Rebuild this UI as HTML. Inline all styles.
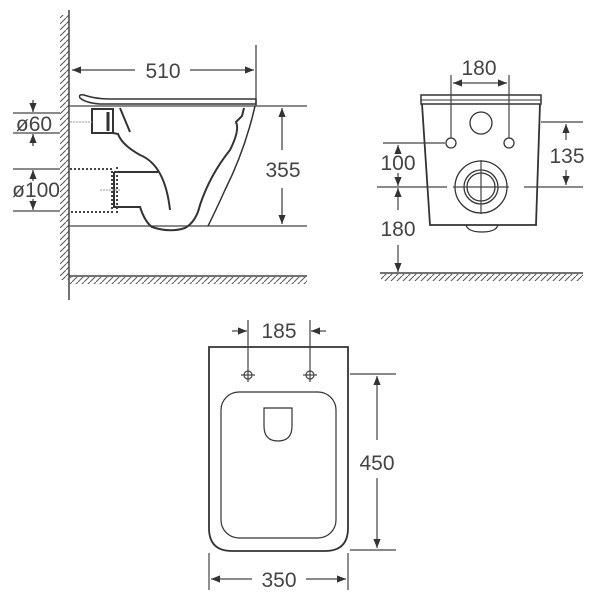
<!DOCTYPE html>
<html><head><style>html,body{margin:0;padding:0;background:#fff}</style></head>
<body>
<svg width="600" height="600" viewBox="0 0 600 600" xmlns="http://www.w3.org/2000/svg">
<defs>
<marker id="a" viewBox="0 0 10 10" refX="10" refY="5" markerWidth="9" markerHeight="9" orient="auto-start-reverse" markerUnits="userSpaceOnUse"><path d="M0,1 L10,5 L0,9 z" fill="#333"/></marker>
<pattern id="hv" width="6" height="6" patternUnits="userSpaceOnUse"><path d="M-1,7 L7,-1" stroke="#555" stroke-width="1"/></pattern>
</defs>
<g font-family="Liberation Sans, sans-serif" font-size="21" fill="#444" text-anchor="middle">
<!-- SIDE VIEW -->
<rect x="60" y="15" width="9" height="265" fill="url(#hv)"/>
<line x1="69" y1="10" x2="69" y2="300" stroke="#444" stroke-width="1.5"/>
<rect x="70" y="277" width="237" height="7" fill="url(#hv)"/>
<line x1="69" y1="276" x2="307" y2="276" stroke="#444" stroke-width="1.5"/>
<g stroke="#444" stroke-width="1.3" fill="none">
<line x1="69" y1="106" x2="307" y2="106"/>
<line x1="69" y1="226" x2="307" y2="226"/>
<line x1="256" y1="45" x2="256" y2="106"/>
<line x1="72" y1="70" x2="135" y2="70" marker-start="url(#a)"/>
<line x1="190" y1="70" x2="254" y2="70" marker-end="url(#a)"/>
<line x1="282" y1="108" x2="282" y2="150" marker-start="url(#a)"/>
<line x1="282" y1="188" x2="282" y2="224" marker-end="url(#a)"/>
<line x1="13" y1="113" x2="60" y2="113"/><line x1="13" y1="133" x2="60" y2="133"/>
<line x1="33" y1="100" x2="33" y2="112" marker-end="url(#a)"/>
<line x1="33" y1="146" x2="33" y2="134" marker-end="url(#a)"/>
<line x1="13" y1="169" x2="60" y2="169"/><line x1="13" y1="211" x2="60" y2="211"/>
<line x1="33" y1="181" x2="33" y2="170" marker-end="url(#a)"/>
<line x1="33" y1="199" x2="33" y2="210" marker-end="url(#a)"/>
</g>
<text x="163" y="78">510</text>
<text x="283" y="177">355</text>
<text x="34" y="131">ø60</text>
<text x="36" y="197">ø100</text>
<!-- toilet side -->
<g stroke="#333" stroke-width="2" fill="none">
<path d="M80,98 Q78,94 84,95 Q95,99 110,99 L256,99 L256,104 L100,104 Q86,103 80,98 Z" stroke-width="1.5"/>
<rect x="92" y="109" width="21" height="24"/>
<line x1="108" y1="112" x2="108" y2="131" stroke-width="3"/>
<path d="M120,108 L130,132"/>
<path d="M113,133 L118,134 Q122,145 140,155 Q165,165 170,210"/>
<path d="M114,172 L158,172"/>
<path d="M114,172 L114,207 L140,207 Q145,222 152,227 Q170,233 185,228 Q196,222 200,205 Q210,175 230,150 Q240,130 236,122 L242,116 L244,108"/>
<path d="M255,106 Q245,150 225,190 Q215,212 208,226" stroke-width="1.5"/>
</g>
<g stroke="#444" stroke-width="2" stroke-dasharray="2,2" fill="none">
<path d="M70,169 L112,169 L112,212 L70,212"/>
<path d="M117,167 L117,214"/>
</g>
<g stroke="#999" stroke-width="1" stroke-dasharray="2,1"><line x1="70" y1="122" x2="92" y2="122"/><line x1="100" y1="190" x2="120" y2="190"/></g>
<!-- FRONT VIEW -->
<rect x="381" y="274" width="202" height="7" fill="url(#hv)"/>
<line x1="380" y1="273" x2="583" y2="273" stroke="#444" stroke-width="1.5"/>
<g stroke="#333" stroke-width="1.8" fill="none">
<path d="M421,95 L541,95 L541,104 L421,104 Z" stroke-width="1.5"/>
<line x1="421" y1="100" x2="541" y2="100" stroke-width="1"/>
<path d="M422,104 L430,225 L536,225 L540,104"/>
<path d="M466,225 Q468,232 482,232 Q496,232 498,225" stroke-width="1.3"/>
<circle cx="481" cy="123" r="11" stroke-width="1.3"/>
<circle cx="451" cy="143" r="5" stroke-width="1.3"/>
<circle cx="509" cy="143" r="5" stroke-width="1.3"/>
<circle cx="481" cy="187" r="26" stroke-width="1.3"/>
<circle cx="481" cy="187" r="17" stroke-width="1.3"/>
<circle cx="481" cy="187" r="14" stroke-width="1.3"/>
</g>
<g stroke="#444" stroke-width="1.2" fill="none">
<line x1="451" y1="75" x2="451" y2="138"/><line x1="509" y1="75" x2="509" y2="138"/>
<line x1="453" y1="83" x2="507" y2="83" marker-start="url(#a)" marker-end="url(#a)"/>
<line x1="453" y1="187" x2="509" y2="187"/><line x1="481" y1="160" x2="481" y2="214"/>
<line x1="383" y1="143" x2="445" y2="143"/>
<line x1="377" y1="187" x2="447" y2="187"/><line x1="524" y1="187" x2="583" y2="187"/>
<line x1="541" y1="122" x2="583" y2="122"/>
<line x1="566" y1="124" x2="566" y2="140" marker-start="url(#a)"/>
<line x1="566" y1="170" x2="566" y2="185" marker-end="url(#a)"/>
<line x1="398" y1="145" x2="398" y2="150" marker-start="url(#a)"/>
<line x1="398" y1="173" x2="398" y2="186" marker-end="url(#a)"/>
<line x1="398" y1="188" x2="398" y2="210" marker-start="url(#a)"/>
<line x1="398" y1="245" x2="398" y2="272" marker-end="url(#a)"/>
</g>
<text x="479" y="75">180</text>
<text x="567" y="163">135</text>
<text x="398" y="170">100</text>
<text x="398" y="236">180</text>
<!-- TOP VIEW -->
<g stroke="#333" stroke-width="1.8" fill="none">
<path d="M209,347 L348,347 L348,528 Q348,551 325,551 L232,551 Q209,551 209,528 Z"/>
<rect x="221" y="392" width="115" height="146" rx="18" stroke-width="1.2"/>
<path d="M264,408 L292,408 L292,426 Q292,441 278,441 Q264,441 264,426 Z" stroke-width="1.2"/>
</g>
<g stroke="#444" stroke-width="1.2" fill="none">
<circle cx="248" cy="375" r="4"/><circle cx="310" cy="375" r="4"/>
<line x1="241" y1="375" x2="255" y2="375"/><line x1="303" y1="375" x2="317" y2="375"/>
<line x1="248" y1="320" x2="248" y2="382"/><line x1="310" y1="320" x2="310" y2="382"/>
<line x1="232" y1="331" x2="247" y2="331" marker-end="url(#a)"/>
<line x1="326" y1="331" x2="311" y2="331" marker-end="url(#a)"/>
<line x1="350" y1="374" x2="396" y2="374"/><line x1="350" y1="550" x2="396" y2="550"/>
<line x1="377" y1="376" x2="377" y2="440" marker-start="url(#a)"/>
<line x1="377" y1="478" x2="377" y2="548" marker-end="url(#a)"/>
<line x1="209" y1="553" x2="209" y2="590"/><line x1="348" y1="553" x2="348" y2="590"/>
<line x1="211" y1="579" x2="252" y2="579" marker-start="url(#a)"/>
<line x1="306" y1="579" x2="346" y2="579" marker-end="url(#a)"/>
</g>
<text x="279" y="338">185</text>
<text x="377" y="470">450</text>
<text x="279" y="587">350</text>
</g>
</svg>
</body></html>
